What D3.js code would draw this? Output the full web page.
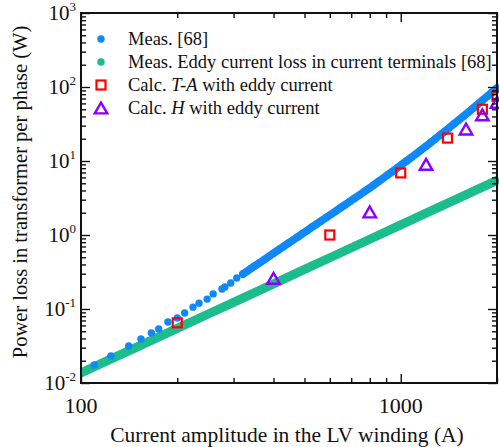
<!DOCTYPE html>
<html>
<head>
<meta charset="utf-8">
<script src="https://cdn.jsdelivr.net/npm/d3@7"></script>
<style>
  body { margin: 0; background: #fff; }
  svg text { font-family: "Liberation Serif", "Times New Roman", serif; fill: #111; }
</style>
</head>
<body>
<svg id="chart" width="499" height="447"></svg>
<script>
// measured loss, sparse low-current points
const measLowI = [110, 124, 141, 154, 166, 175, 187, 200, 211, 224, 234, 248, 259, 276, 282, 294, 307, 321];
const measLowP = [0.0175, 0.0232, 0.0316, 0.0393, 0.0474, 0.0537, 0.0667, 0.0756, 0.0883, 0.106, 0.120, 0.136, 0.160, 0.186, 0.198, 0.225, 0.262, 0.297];
// measured loss, dense part
const measI = [321, 330, 340, 350, 362, 375, 388, 400, 415, 430, 445, 460, 476, 492, 510, 528, 546, 565, 585, 605, 626,
  648, 670, 693, 717, 742, 768, 795, 822, 850, 880, 910, 942, 975, 1008, 1043, 1080, 1117, 1156, 1196, 1238,
  1281, 1325, 1371, 1419, 1468, 1519, 1572, 1627, 1683, 1742, 1802, 1865, 1930, 1997];
const measP = [0.297, 0.322, 0.352, 0.383, 0.422, 0.468, 0.518, 0.566, 0.630, 0.700, 0.774, 0.853, 0.942, 1.04, 1.15, 1.28, 1.41, 1.56, 1.72, 1.90, 2.10,
  2.33, 2.57, 2.83, 3.13, 3.46, 3.83, 4.25, 4.72, 5.24, 5.83, 6.48, 7.22, 8.05, 8.98, 10.0, 11.2, 12.5, 14.0, 15.7, 17.6,
  19.8, 22.3, 25.0, 28.2, 31.8, 35.8, 40.4, 45.6, 51.6, 58.4, 66.1, 74.9, 85.0, 96.5];
// eddy current loss in terminals
const eddyI = [95, 100, 120, 150, 200, 250, 300, 400, 500, 600, 800, 1000, 1200, 1500, 1800, 2000, 2030];
const eddyP = [0.0124, 0.0137, 0.0197, 0.0308, 0.0548, 0.0856, 0.123, 0.219, 0.343, 0.493, 0.877, 1.37, 1.97, 3.08, 4.44, 5.48, 5.65];
// calc T-A
const taI = [200, 600, 1000, 1400, 1800, 2000];
const taP = [0.065, 1.0, 6.9, 20.4, 50, 75];
// calc H
const hI = [400, 800, 1200, 1600, 1800, 2000];
const hP = [0.26, 2.05, 9.0, 27, 42, 62];

const xMajor = [100, 1000];
const yMajor = [0.01, 0.1, 1, 10, 100, 1000];
const yExp = ['-2', '-1', '0', '1', '2', '3'];
const legendLabels = ['Meas. [68]', 'Meas. Eddy current loss in current terminals [68]', 'Calc. T-A with eddy current', 'Calc. H with eddy current'];

const blue = '#0f88f8', green = '#1bbd8c', red = '#ff0000', purple = '#8800ff';

const margin = {left: 81, top: 13};
const w = 416, h = 370;

const svg = d3.select('#chart');
const g = svg.append('g').attr('transform', `translate(${margin.left},${margin.top})`);

const x = d3.scaleLog().domain([100, 2000]).range([0, w]);
const y = d3.scaleLog().domain([0.01, 1000]).range([h, 0]);

svg.append('clipPath').attr('id', 'clip')
  .append('rect').attr('x', 0).attr('y', -20).attr('width', w + 40).attr('height', h + 20);

const plot = g.append('g').attr('clip-path', 'url(#clip)');
const line = d3.line().x(d => x(d[0])).y(d => y(d[1]));

// green band
const eddy = eddyI.map((d, i) => [d, eddyP[i]]);
plot.append('path')
  .datum(eddy)
  .attr('fill', 'none')
  .attr('stroke', green)
  .attr('stroke-width', 9)
  .attr('d', line);

// blue: sparse dots + dense band
const measLow = measLowI.map((d, i) => [d, measLowP[i]]);
const meas = measI.map((d, i) => [d, measP[i]]);
plot.append('path')
  .datum(meas)
  .attr('fill', 'none')
  .attr('stroke', blue)
  .attr('stroke-width', 7.8)
  .attr('stroke-linecap', 'round')
  .attr('d', line);
plot.selectAll('.meas')
  .data(measLow.concat(meas))
  .enter()
  .append('circle')
  .attr('cx', d => x(d[0]))
  .attr('cy', d => y(d[1]))
  .attr('r', 3.7)
  .style('fill', blue);

// squares
g.selectAll('.ta')
  .data(taI.map((d, i) => [d, taP[i]]))
  .enter()
  .append('rect')
  .attr('x', d => x(d[0]) - 4.5)
  .attr('y', d => y(d[1]) - 4.5)
  .attr('width', 9)
  .attr('height', 9)
  .style('fill', 'none')
  .style('stroke', red)
  .style('stroke-width', 2.2);

// triangles
const tri = (cx, cy, s) => {
  const hh = s * 0.866;
  return `M${cx},${cy - hh / 2}L${cx + s / 2},${cy + hh / 2}L${cx - s / 2},${cy + hh / 2}Z`;
};
g.selectAll('.h')
  .data(hI.map((d, i) => [d, hP[i]]))
  .enter()
  .append('path')
  .attr('d', d => tri(x(d[0]), y(d[1]), 12.5))
  .style('fill', 'none')
  .style('stroke', purple)
  .style('stroke-width', 2.4);

// axes
const xMinor = x.ticks().filter(d => xMajor.indexOf(d) < 0);
const yMinor = y.ticks().filter(d => !yMajor.some(m => Math.abs(m - d) < 1e-9));

function drawAxis(gen, scale, values, size, tr) {
  const a = g.append('g').attr('transform', tr)
    .call(gen(scale).tickValues(values).tickSize(size).tickFormat(''));
  a.select('.domain').remove();
  a.selectAll('line').attr('stroke', '#111').attr('stroke-width', 1.4);
  return a;
}
drawAxis(d3.axisBottom, x, xMajor, -9, `translate(0,${h})`);
drawAxis(d3.axisBottom, x, xMinor, -5, `translate(0,${h})`);
drawAxis(d3.axisTop, x, xMajor, -9, 'translate(0,0)');
drawAxis(d3.axisTop, x, xMinor, -5, 'translate(0,0)');
drawAxis(d3.axisLeft, y, yMajor, -9, 'translate(0,0)');
drawAxis(d3.axisLeft, y, yMinor, -5, 'translate(0,0)');
drawAxis(d3.axisRight, y, yMajor, -9, `translate(${w},0)`);
drawAxis(d3.axisRight, y, yMinor, -5, `translate(${w},0)`);

g.append('rect')
  .attr('width', w).attr('height', h)
  .style('fill', 'none').style('stroke', '#111').style('stroke-width', 2);

// tick labels
g.selectAll('.xlab')
  .data(xMajor)
  .enter()
  .append('text')
  .attr('x', d => x(d))
  .attr('y', h + 30)
  .attr('text-anchor', 'middle')
  .attr('font-size', '22px')
  .text(d => d);

const ylab = g.selectAll('.ylab')
  .data(yMajor)
  .enter()
  .append('text')
  .attr('x', -5)
  .attr('y', d => y(d) + 7)
  .attr('text-anchor', 'end')
  .attr('font-size', '21px');
ylab.append('tspan').text('10');
ylab.append('tspan').attr('font-size', '13px').attr('dy', -9).text((d, i) => yExp[i]);

// axis titles
svg.append('text')
  .attr('x', margin.left + w / 2 - 2)
  .attr('y', 442)
  .attr('text-anchor', 'middle')
  .attr('font-size', '21.5px')
  .text('Current amplitude in the LV winding (A)');

svg.append('text')
  .attr('transform', 'translate(27,192) rotate(-90)')
  .attr('text-anchor', 'middle')
  .attr('font-size', '20.5px')
  .text('Power loss in transformer per phase (W)');

// legend
const leg = g.append('g').attr('transform', 'translate(20,26)');
const rowH = 23;
leg.append('circle').attr('cx', 0).attr('cy', 0).attr('r', 3.7).style('fill', blue);
leg.append('circle').attr('cx', 0).attr('cy', rowH).attr('r', 3.7).style('fill', green);
leg.append('rect').attr('x', -4.5).attr('y', rowH * 2 - 4.5).attr('width', 9).attr('height', 9)
  .style('fill', 'none').style('stroke', red).style('stroke-width', 2.2);
leg.append('path').attr('d', tri(0, rowH * 3, 12.5))
  .style('fill', 'none').style('stroke', purple).style('stroke-width', 2.4);

const lt = leg.selectAll('.lt')
  .data(legendLabels)
  .enter()
  .append('text')
  .attr('x', 27)
  .attr('y', (d, i) => i * rowH + 6)
  .attr('font-size', '18.5px');
lt.each(function(d) {
  const t = d3.select(this);
  if (d.indexOf('T-A') >= 0) {
    t.append('tspan').text('Calc. ');
    t.append('tspan').attr('font-style', 'italic').text('T-A');
    t.append('tspan').text(' with eddy current');
  } else if (d.indexOf(' H ') >= 0) {
    t.append('tspan').text('Calc. ');
    t.append('tspan').attr('font-style', 'italic').text('H');
    t.append('tspan').text(' with eddy current');
  } else {
    t.text(d);
  }
});
</script>
</body>
</html>
